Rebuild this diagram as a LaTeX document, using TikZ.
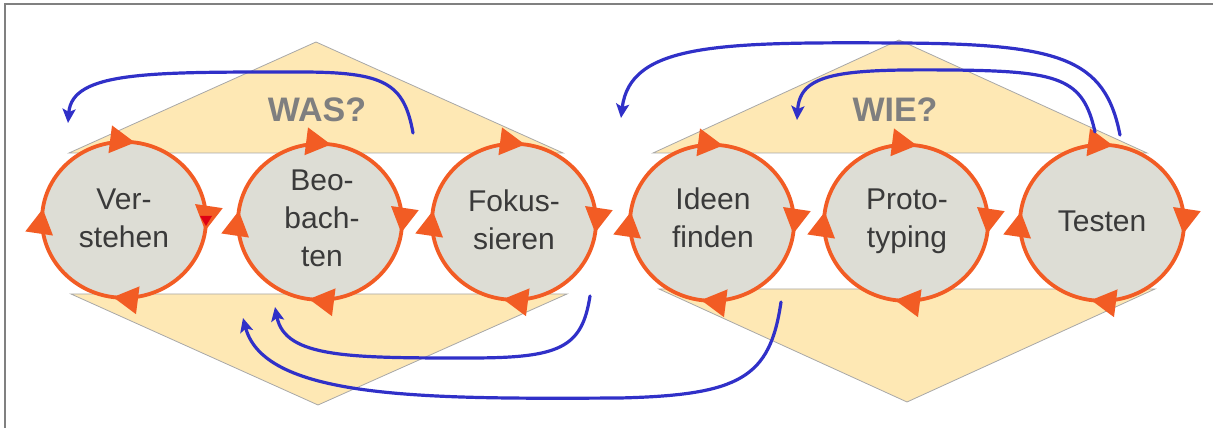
\documentclass[tikz,border=0pt]{standalone}
\usepackage{fontspec}
\setmainfont{Liberation Sans}
\usetikzlibrary{arrows.meta,decorations.markings,shapes.geometric}

\definecolor{sand}{RGB}{254,232,180}
\definecolor{sandedge}{RGB}{168,168,168}
\definecolor{stagefill}{RGB}{221,221,213}
\definecolor{loopcol}{RGB}{242,92,36}
\definecolor{flowblue}{RGB}{48,48,200}
\definecolor{labelgray}{RGB}{58,58,58}
\definecolor{headgray}{RGB}{127,127,127}
\definecolor{framegray}{RGB}{128,128,128}
\definecolor{tipred}{RGB}{222,0,20}

\begin{document}
\begin{tikzpicture}[x=1pt,y=1pt,
  half/.style={fill=sand, draw=sandedge, line width=0.8pt},
  stage/.style={ellipse, fill=stagefill, minimum width=164pt, minimum height=156pt, inner sep=0pt},
  stageloop/.style={draw=loopcol, line width=3.8pt, postaction={decorate},
    decoration={markings, mark=between positions 0.022 and 0.99 step 0.25 with
      {\arrow{Triangle[length=25pt,width=27pt]}}}},
  stagetext/.style={font=\fontsize{30}{38}\selectfont, text=labelgray, align=center,
    inner sep=0pt, anchor=base},
  heading/.style={font=\fontsize{34}{40}\selectfont\bfseries, text=headgray,
    inner sep=0pt, anchor=base},
  flow/.style={draw=flowblue, line width=3.2pt, line cap=round,
    -{Stealth[length=14pt,width=13pt,inset=3pt]}}]

\useasboundingbox (0,0) rectangle (1213,428);

% frame lines on the top and left
\draw[framegray, line width=1.5pt] (5,0) -- (5,424) -- (1213,424);

% WAS diamond, cut by a white band
\draw[half] (69,275) -- (316,386) -- (563,275) -- cycle;
\draw[half] (71,134) -- (318,23) -- (567,134) -- cycle;
% WIE diamond, cut by a white band
\draw[half] (653,275) -- (899,388) -- (1147,275) -- cycle;
\draw[half] (659,139) -- (907,26) -- (1155,139) -- cycle;

\node[heading] (was) at (317,306) {WAS?};
\node[heading] (wie) at (895,306) {WIE?};

% the six stages
\node[stage] (verstehen) at (124,208) {};
\node[stage] (beobachten) at (320,206) {};
\node[stage] (fokussieren) at (514,206) {};
\node[stage] (ideen) at (712,205) {};
\node[stage] (prototyping) at (906,205) {};
\node[stage] (testen) at (1102,205) {};

\foreach \s in {verstehen,beobachten,fokussieren,ideen,prototyping,testen}
  \draw[stageloop] (\s.north) arc[start angle=90, end angle=-270, x radius=82pt, y radius=78pt];

\fill[tipred] (200,212) -- (212,212) -- (206,202) -- cycle;

% stage names, placed by the baseline of their last line
\node[stagetext] (verstehen-t) at (124,180) {Ver-\\stehen};
\node[stagetext] (beobachten-t) at (322,161) {Beo-\\bach-\\ten};
\node[stagetext] (fokussieren-t) at (514,178) {Fokus-\\sieren};
\node[stagetext] (ideen-t) at (713,180) {Ideen\\finden};
\node[stagetext] (prototyping-t) at (907,180) {Proto-\\typing};
\node[stagetext] (testen-t) at (1102,196) {Testen};

% iteration loops back to earlier stages
\coordinate (b1s) at (413,295); \coordinate (b1e) at (68,305);
\coordinate (b2s) at (590,132); \coordinate (b2e) at (275,121);
\coordinate (b3s) at (781,126); \coordinate (b3e) at (243,110);
\coordinate (b4s) at (1120,293); \coordinate (b4e) at (621,310);
\coordinate (b5s) at (1095,296); \coordinate (b5e) at (797,308);

\draw[flow] (b1s) .. controls (404,345) and (385,356) .. (300,356)
  .. controls (150,356) and (72,357) .. (b1e);
\draw[flow] (b2s) .. controls (582,80) and (560,70) .. (470,70)
  .. controls (350,70) and (285,70) .. (b2e);
\draw[flow] (b3s) .. controls (770,50) and (740,33) .. (620,30)
  .. controls (430,29) and (265,28) .. (b3e);
\draw[flow] (b4s) .. controls (1105,370) and (1060,384) .. (900,385)
  .. controls (720,386) and (630,385) .. (b4e);
\draw[flow] (b5s) .. controls (1083,350) and (1060,357) .. (950,358)
  .. controls (840,359) and (800,355) .. (b5e);

\end{tikzpicture}
\end{document}
